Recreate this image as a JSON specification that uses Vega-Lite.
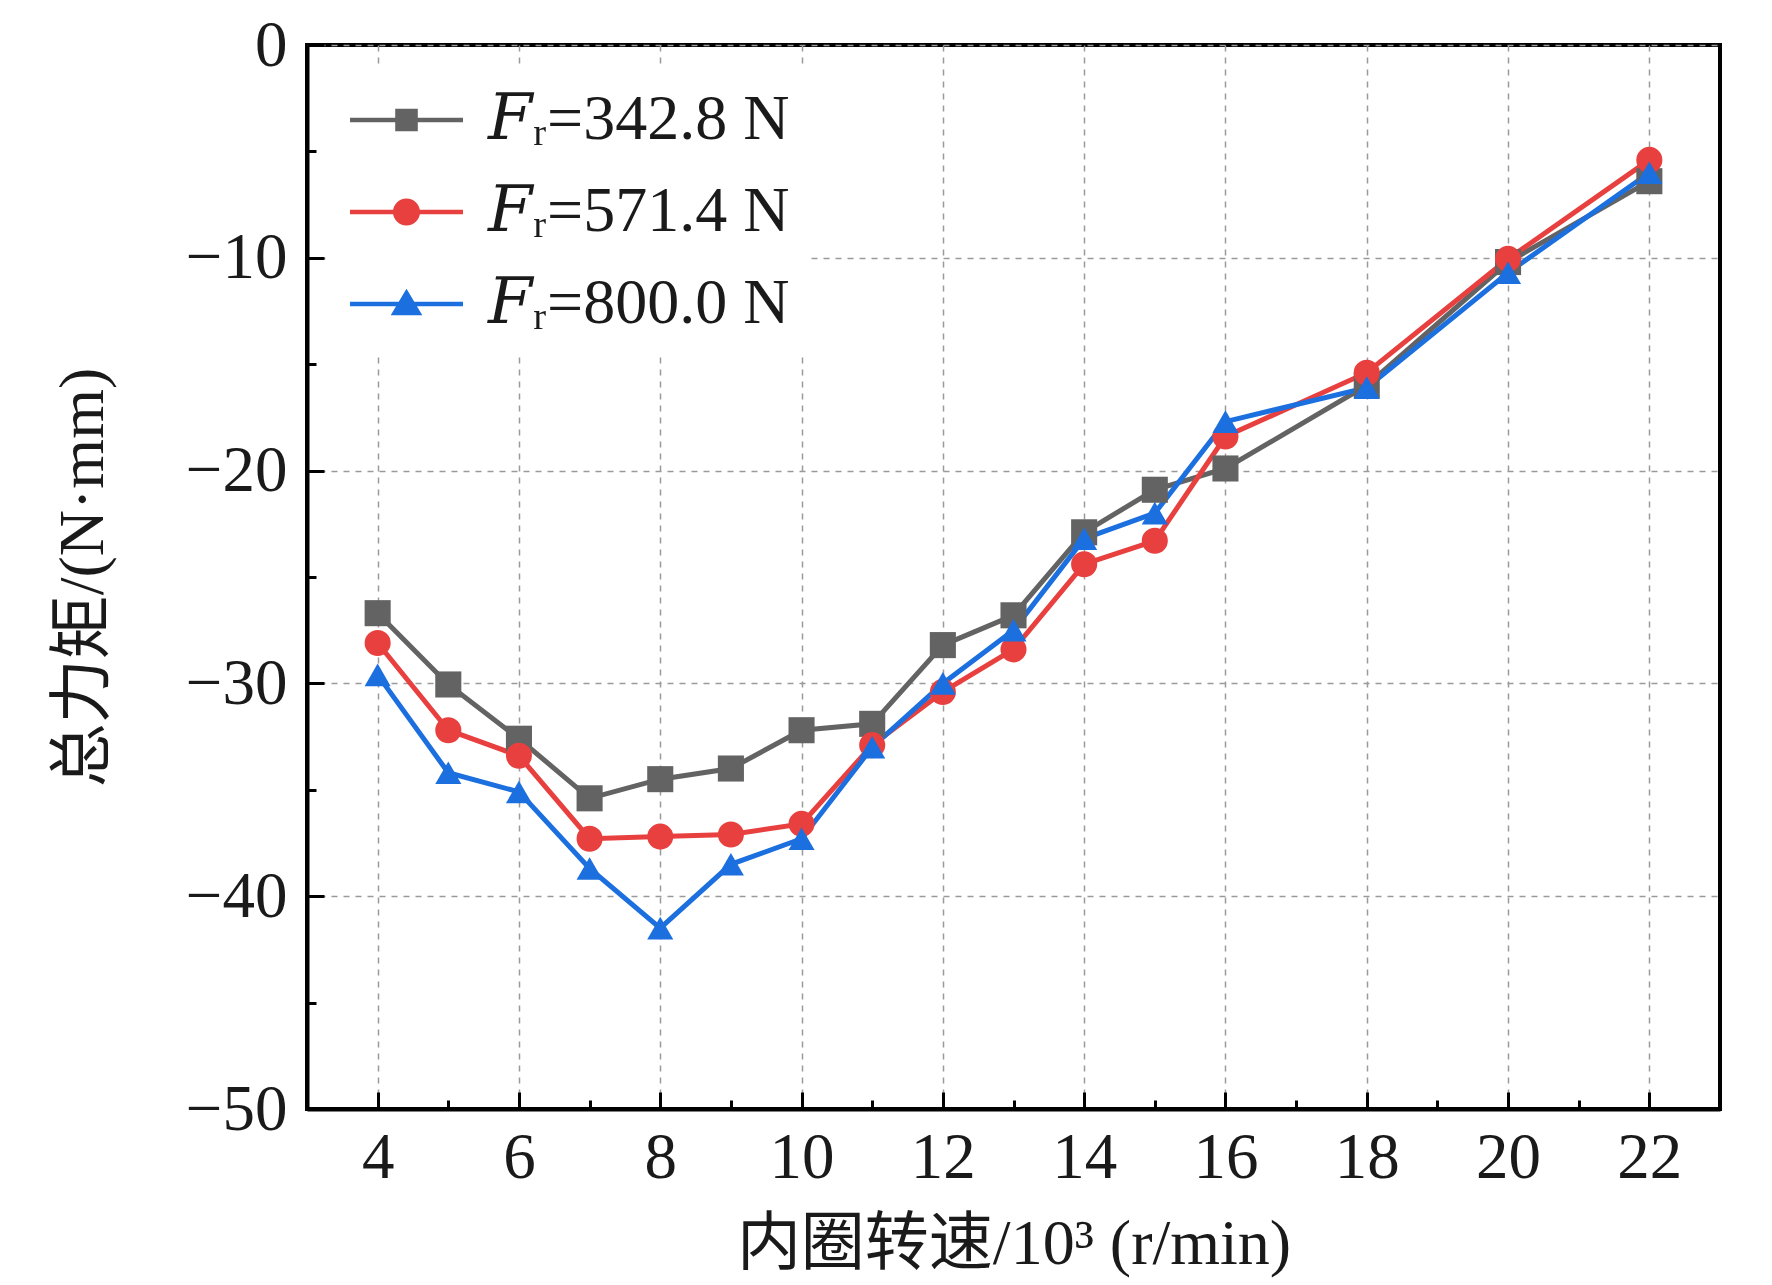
{
  "$schema": "https://vega.github.io/schema/vega-lite/v6.json",
  "width": 1413,
  "height": 1064,
  "autosize": {"type": "none"},
  "padding": {"left": 307, "top": 45, "right": 52, "bottom": 176},
  "background": "white",
  "config": {
    "font": "Liberation Serif",
    "view": {"stroke": "black", "strokeWidth": 4},
    "axis": {
      "domainColor": "black",
      "domainWidth": 4,
      "tickColor": "black",
      "tickWidth": 3,
      "tickSize": -17,
      "gridColor": "#9a9a9a",
      "gridDash": [6, 6],
      "gridWidth": 1.5,
      "labelFont": "Liberation Serif",
      "labelFontSize": 65,
      "labelColor": "#1a1a1a",
      "titleFont": "Liberation Serif, Noto Sans CJK SC",
      "titleFontSize": 64,
      "titleFontWeight": "normal",
      "titleColor": "#1a1a1a"
    }
  },
  "data": {
    "values": [
      {"speed": 4, "Fr": "342.8", "torque": -26.7},
      {"speed": 5, "Fr": "342.8", "torque": -30.05},
      {"speed": 6, "Fr": "342.8", "torque": -32.6},
      {"speed": 7, "Fr": "342.8", "torque": -35.4},
      {"speed": 8, "Fr": "342.8", "torque": -34.5},
      {"speed": 9, "Fr": "342.8", "torque": -34.0},
      {"speed": 10, "Fr": "342.8", "torque": -32.2},
      {"speed": 11, "Fr": "342.8", "torque": -31.9},
      {"speed": 12, "Fr": "342.8", "torque": -28.2},
      {"speed": 13, "Fr": "342.8", "torque": -26.8},
      {"speed": 14, "Fr": "342.8", "torque": -22.9},
      {"speed": 15, "Fr": "342.8", "torque": -20.9},
      {"speed": 16, "Fr": "342.8", "torque": -19.9},
      {"speed": 18, "Fr": "342.8", "torque": -16.0},
      {"speed": 20, "Fr": "342.8", "torque": -10.2},
      {"speed": 22, "Fr": "342.8", "torque": -6.4},
      {"speed": 4, "Fr": "571.4", "torque": -28.1},
      {"speed": 5, "Fr": "571.4", "torque": -32.2},
      {"speed": 6, "Fr": "571.4", "torque": -33.4},
      {"speed": 7, "Fr": "571.4", "torque": -37.3},
      {"speed": 8, "Fr": "571.4", "torque": -37.2},
      {"speed": 9, "Fr": "571.4", "torque": -37.1},
      {"speed": 10, "Fr": "571.4", "torque": -36.6},
      {"speed": 11, "Fr": "571.4", "torque": -32.9},
      {"speed": 12, "Fr": "571.4", "torque": -30.4},
      {"speed": 13, "Fr": "571.4", "torque": -28.4},
      {"speed": 14, "Fr": "571.4", "torque": -24.4},
      {"speed": 15, "Fr": "571.4", "torque": -23.3},
      {"speed": 16, "Fr": "571.4", "torque": -18.4},
      {"speed": 18, "Fr": "571.4", "torque": -15.4},
      {"speed": 20, "Fr": "571.4", "torque": -10.05},
      {"speed": 22, "Fr": "571.4", "torque": -5.4},
      {"speed": 4, "Fr": "800.0", "torque": -29.6},
      {"speed": 5, "Fr": "800.0", "torque": -34.2},
      {"speed": 6, "Fr": "800.0", "torque": -35.1},
      {"speed": 7, "Fr": "800.0", "torque": -38.7},
      {"speed": 8, "Fr": "800.0", "torque": -41.5},
      {"speed": 9, "Fr": "800.0", "torque": -38.5},
      {"speed": 10, "Fr": "800.0", "torque": -37.3},
      {"speed": 11, "Fr": "800.0", "torque": -33.0},
      {"speed": 12, "Fr": "800.0", "torque": -30.0},
      {"speed": 13, "Fr": "800.0", "torque": -27.5},
      {"speed": 14, "Fr": "800.0", "torque": -23.2},
      {"speed": 15, "Fr": "800.0", "torque": -22.0},
      {"speed": 16, "Fr": "800.0", "torque": -17.7},
      {"speed": 18, "Fr": "800.0", "torque": -16.1},
      {"speed": 20, "Fr": "800.0", "torque": -10.7},
      {"speed": 22, "Fr": "800.0", "torque": -6.0}
    ]
  },
  "layer": [
    {
      "mark": {"type": "line", "strokeWidth": 5},
      "encoding": {
        "x": {
          "field": "speed",
          "type": "quantitative",
          "scale": {"domain": [3, 23], "nice": false, "zero": false},
          "axis": {
            "values": [4, 6, 8, 10, 12, 14, 16, 18, 20, 22],
            "grid": true,
            "labelPadding": 34,
            "title": "内圈转速/10³ (r/min)",
            "titlePadding": 22
          }
        },
        "y": {
          "field": "torque",
          "type": "quantitative",
          "scale": {"domain": [-50, 0], "nice": false, "zero": false},
          "axis": {
            "values": [0, -10, -20, -30, -40, -50],
            "grid": true,
            "labelPadding": 37,
            "title": "总力矩/(N·mm)",
            "titlePadding": 70
          }
        },
        "color": {
          "field": "Fr",
          "type": "nominal",
          "scale": {"domain": ["342.8", "571.4", "800.0"], "range": ["#636363", "#e8403f", "#1c6fde"]},
          "legend": null
        }
      }
    },
    {
      "mark": {"type": "point", "filled": true, "opacity": 1, "size": 680},
      "encoding": {
        "x": {"field": "speed", "type": "quantitative", "axis": null},
        "y": {"field": "torque", "type": "quantitative", "axis": null},
        "color": {"field": "Fr", "type": "nominal", "legend": null},
        "shape": {
          "field": "Fr",
          "type": "nominal",
          "scale": {"domain": ["342.8", "571.4", "800.0"], "range": ["square", "circle", "triangle-up"]},
          "legend": null
        }
      }
    },
    {
      "mark": {
        "type": "point",
        "filled": true,
        "opacity": 0,
        "size": 12769,
        "color": {"expr": "datum.value === '342.8' ? '#636363' : datum.value === '571.4' ? '#e8403f' : '#1c6fde'"}
      },
      "encoding": {
        "x": {
          "field": "speed",
          "type": "quantitative",
          "axis": {
            "orient": "bottom",
            "values": [5, 7, 9, 11, 13, 15, 17, 19, 21],
            "labels": false,
            "domain": false,
            "grid": false,
            "tickSize": -9,
            "title": null
          }
        },
        "y": {
          "field": "torque",
          "type": "quantitative",
          "axis": {
            "orient": "left",
            "values": [-5, -15, -25, -35, -45],
            "labels": false,
            "domain": false,
            "grid": false,
            "tickSize": -9,
            "title": null
          }
        },
        "shape": {
          "field": "Fr",
          "type": "nominal",
          "scale": {
            "domain": ["342.8", "571.4", "800.0"],
            "range": [
              "M-1,-0.04H1V0.04H-1Z M-0.2,-0.2H0.2V0.2H-0.2Z",
              "M-1,-0.04H1V0.04H-1Z M-0.24,0A0.24,0.24 0 1,1 0.24,0A0.24,0.24 0 1,1 -0.24,0Z",
              "M-1,-0.04H1V0.04H-1Z M0,-0.27L0.28,0.2H-0.28Z"
            ]
          },
          "legend": {
            "orient": "none",
            "legendX": 23,
            "legendY": 24,
            "padding": 20,
            "fillColor": "white",
            "title": null,
            "symbolSize": 12769,
            "symbolOpacity": 1,
            "symbolStrokeWidth": 0,
            "clipHeight": 62,
            "rowPadding": 28,
            "labelOffset": 25,
            "labelFont": "Liberation Serif, DejaVu Serif",
            "labelFontSize": 64,
            "labelColor": "#1a1a1a",
            "labelLimit": 0,
            "labelExpr": "'𝐹ᵣ=' + datum.label + ' N'"
          }
        }
      }
    }
  ],
  "resolve": {
    "scale": {"shape": "independent"},
    "axis": {"x": "independent", "y": "independent"}
  }
}
